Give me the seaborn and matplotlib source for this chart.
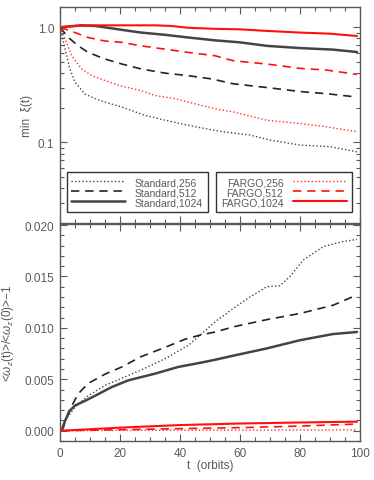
import numpy as np
import pandas as pd
import matplotlib
matplotlib.use("Agg")
import matplotlib.pyplot as plt
import seaborn as sns
from matplotlib.ticker import MultipleLocator, FixedLocator, NullFormatter, LogLocator

# ---------------- data ----------------
# top panel: min xi(t)
t_s256_top = [0, 1.7, 3.3, 5, 8.3, 11.7, 15, 20.6, 28.3, 35, 42.8, 48.3, 53.3, 63.3, 70, 80, 90, 99]
v_s256_top = [1.0, 0.646, 0.435, 0.334, 0.264, 0.24, 0.224, 0.203, 0.172, 0.156, 0.141, 0.132, 0.125, 0.116, 0.105, 0.095, 0.092, 0.083]
t_s512_top = [0, 2.8, 6.1, 9.4, 15, 20.6, 27, 35, 42.8, 50.6, 57.8, 68.9, 80, 88.9, 99]
v_s512_top = [1.0, 0.815, 0.69, 0.605, 0.53, 0.48, 0.435, 0.40, 0.38, 0.356, 0.323, 0.30, 0.277, 0.265, 0.248]
t_s1024_top = [0, 7.2, 11.7, 16, 20.6, 27, 35, 42.8, 51.7, 60, 68.9, 80, 91, 99]
v_s1024_top = [1.0, 1.04, 1.027, 0.99, 0.95, 0.90, 0.86, 0.815, 0.77, 0.74, 0.69, 0.66, 0.64, 0.61]
t_f256_top = [0, 1.7, 3.9, 7.2, 10.6, 15, 20.6, 27, 31.7, 38.3, 45, 51.7, 57.8, 68.9, 80, 87.8, 99]
v_f256_top = [1.0, 0.79, 0.566, 0.435, 0.38, 0.345, 0.308, 0.282, 0.256, 0.24, 0.217, 0.196, 0.184, 0.156, 0.146, 0.138, 0.124]
t_f512_top = [0, 5, 9.4, 15, 20.6, 27, 35, 42.8, 51.7, 57.8, 68.9, 80, 88.9, 99]
v_f512_top = [1.0, 0.90, 0.815, 0.76, 0.74, 0.69, 0.646, 0.605, 0.566, 0.512, 0.48, 0.44, 0.425, 0.39]
t_f1024_top = [0, 5, 11.7, 20.6, 31.7, 37, 42.8, 51.7, 60, 68.9, 80, 90, 99]
v_f1024_top = [1.0, 1.027, 1.04, 1.04, 1.04, 1.027, 0.99, 0.97, 0.96, 0.93, 0.90, 0.88, 0.84]

# bottom panel: <w_z(t)>/<w_z(0)> - 1
t_s256_bot = [0.5, 1.7, 5, 9.4, 15, 20.6, 27, 35, 42.8, 46.7, 52.2, 57.8, 63.3, 68.9, 73.3, 76.7, 81.1, 87.8, 94.4, 99]
v_s256_bot = [0, 0.0010, 0.0023, 0.0034, 0.0044, 0.0051, 0.0059, 0.0070, 0.0083, 0.0093, 0.0107, 0.0119, 0.0130, 0.0140, 0.0141, 0.0150, 0.0166, 0.0179, 0.0184, 0.0186]
t_s512_bot = [0.5, 1.1, 2.8, 6.1, 9.4, 15, 20.6, 27, 35, 41.7, 46.7, 51.7, 57.8, 68.9, 80, 91, 99]
v_s512_bot = [0, 0.0003, 0.0018, 0.0036, 0.0046, 0.0055, 0.0062, 0.0072, 0.0081, 0.0089, 0.0093, 0.0096, 0.0101, 0.0108, 0.0114, 0.0122, 0.0132]
t_s1024_bot = [0.5, 1.7, 3.3, 5, 8.3, 11.7, 17.2, 22.8, 31.7, 39.4, 46.7, 51.7, 57.8, 68.9, 80, 91, 99]
v_s1024_bot = [0, 0.00098, 0.00196, 0.00245, 0.0029, 0.0034, 0.00424, 0.0049, 0.00555, 0.0062, 0.0066, 0.0069, 0.0073, 0.0080, 0.0088, 0.0094, 0.0096]
t_f256_bot = [0.5, 20, 40, 60, 80, 99]
v_f256_bot = [0, 0.00003, 0.00005, 0.00006, 0.00007, 0.00008]
t_f512_bot = [0.5, 20, 40, 60, 80, 99]
v_f512_bot = [0, 0.0001, 0.0002, 0.0003, 0.00045, 0.00065]
t_f1024_bot = [0.5, 20, 40, 60, 80, 99]
v_f1024_bot = [0, 0.0003, 0.00055, 0.0007, 0.0008, 0.00088]

labels = ["Standard,256", "Standard,512", "Standard,1024",
          "FARGO,256", "FARGO,512", "FARGO,1024"]

# ---------------- styling ----------------
sns.set_theme(style="white")
plt.rcParams['font.family'] = ['Liberation Sans', 'DejaVu Sans']
GRAY = "#5a5a5a"
plt.rcParams.update({
    "axes.edgecolor": GRAY, "axes.linewidth": 1.0,
    "xtick.color": GRAY, "ytick.color": GRAY,
    "text.color": GRAY, "axes.labelcolor": GRAY,
    "xtick.labelsize": 8.5, "ytick.labelsize": 8.5,
    "mathtext.fontset": "custom",
    "mathtext.rm": "Liberation Sans",
    "mathtext.it": "Liberation Sans:italic",
})

RED = "#ff1010"
styles = [
    dict(color="#444444", lw=1.0, ls=(0, (1, 1.6))),
    dict(color="#222222", lw=1.2, ls=(0, (5, 3.5))),
    dict(color="#444444", lw=1.8, ls="-"),
    dict(color="#ff3030", lw=1.0, ls=(0, (1, 1.6))),
    dict(color=RED, lw=1.2, ls=(0, (5, 3.5))),
    dict(color=RED, lw=1.5, ls="-"),
]

fig = plt.figure(figsize=(3.74, 4.81), dpi=100)
L, R = 60 / 374, 360 / 374
ax1 = fig.add_axes([L, 1 - 224 / 481, R - L, (224 - 8) / 481])
ax2 = fig.add_axes([L, 1 - 442 / 481, R - L, (442 - 225) / 481])

top = [(t_s256_top, v_s256_top), (t_s512_top, v_s512_top), (t_s1024_top, v_s1024_top),
       (t_f256_top, v_f256_top), (t_f512_top, v_f512_top), (t_f1024_top, v_f1024_top)]
bot = [(t_s256_bot, v_s256_bot), (t_s512_bot, v_s512_bot), (t_s1024_bot, v_s1024_bot),
       (t_f256_bot, v_f256_bot), (t_f512_bot, v_f512_bot), (t_f1024_bot, v_f1024_bot)]

handles = []
for (t, v), st in zip(top, styles):
    df = pd.DataFrame({"t": t, "v": v})
    sns.lineplot(data=df, x="t", y="v", ax=ax1, estimator=None, sort=False,
                 color=st["color"], linewidth=st["lw"], linestyle=st["ls"])
    handles.append(ax1.lines[-1])
for (t, v), st in zip(bot, styles):
    df = pd.DataFrame({"t": t, "v": v})
    sns.lineplot(data=df, x="t", y="v", ax=ax2, estimator=None, sort=False,
                 color=st["color"], linewidth=st["lw"], linestyle=st["ls"])

# top axis
ax1.set_yscale("log")
ax1.set_ylim(0.02, 1.5)
ax1.set_xlim(0, 100)
ax1.yaxis.set_major_locator(FixedLocator([0.1, 1.0]))
ax1.set_yticklabels(["0.1", "1.0"])
ax1.yaxis.set_minor_locator(LogLocator(base=10, subs=np.arange(2, 10)))
ax1.yaxis.set_minor_formatter(NullFormatter())
ax1.xaxis.set_major_locator(MultipleLocator(20))
ax1.xaxis.set_minor_locator(MultipleLocator(5))
ax1.set_xticklabels([])
ax1.set_xlabel("")
ax1.set_ylabel("min  ξ(t)", fontsize=8.5)

# bottom axis
ax2.set_xlim(0, 100)
ax2.set_ylim(-0.001, 0.0201)
ax2.yaxis.set_major_locator(MultipleLocator(0.005))
ax2.yaxis.set_minor_locator(MultipleLocator(0.001))
ax2.yaxis.set_major_formatter(matplotlib.ticker.FormatStrFormatter("%.3f"))
ax2.xaxis.set_major_locator(MultipleLocator(20))
ax2.xaxis.set_minor_locator(MultipleLocator(5))
ax2.set_xlabel("t  (orbits)", fontsize=8.5, labelpad=0)
ax2.set_ylabel(r"<$\omega_z$(t)>/<$\omega_z$(0)>$-$1", fontsize=8.5)

for ax in (ax1, ax2):
    ax.tick_params(which="both", direction="in", top=True, right=True,
                   bottom=True, left=True, pad=4)
    ax.tick_params(which="major", length=5, width=0.8)
    ax.tick_params(which="minor", length=3, width=0.8)
    for s in ax.spines.values():
        s.set_visible(True)

ax1.yaxis.set_label_coords(-0.09, 0.5)
ax2.yaxis.set_label_coords(-0.147, 0.5)

common = dict(borderaxespad=0, fontsize=7.5, frameon=True, fancybox=False,
              edgecolor="black", handlelength=5.2, labelspacing=0.0,
              borderpad=0.45, handletextpad=0.9)
leg1 = ax1.legend(handles[:3], labels[:3], loc="lower left",
                  bbox_to_anchor=(0.022, 0.052), **common)
leg1.get_frame().set_linewidth(1.0)
ax1.add_artist(leg1)
leg2 = ax1.legend(handles[3:], labels[3:], loc="lower right",
                  bbox_to_anchor=(0.972, 0.052), markerfirst=False, **common)
leg2.get_frame().set_linewidth(1.0)
for lg in (leg1, leg2):
    for tx in lg.get_texts():
        tx.set_color(GRAY)

fig.savefig("out.png", dpi=100)
